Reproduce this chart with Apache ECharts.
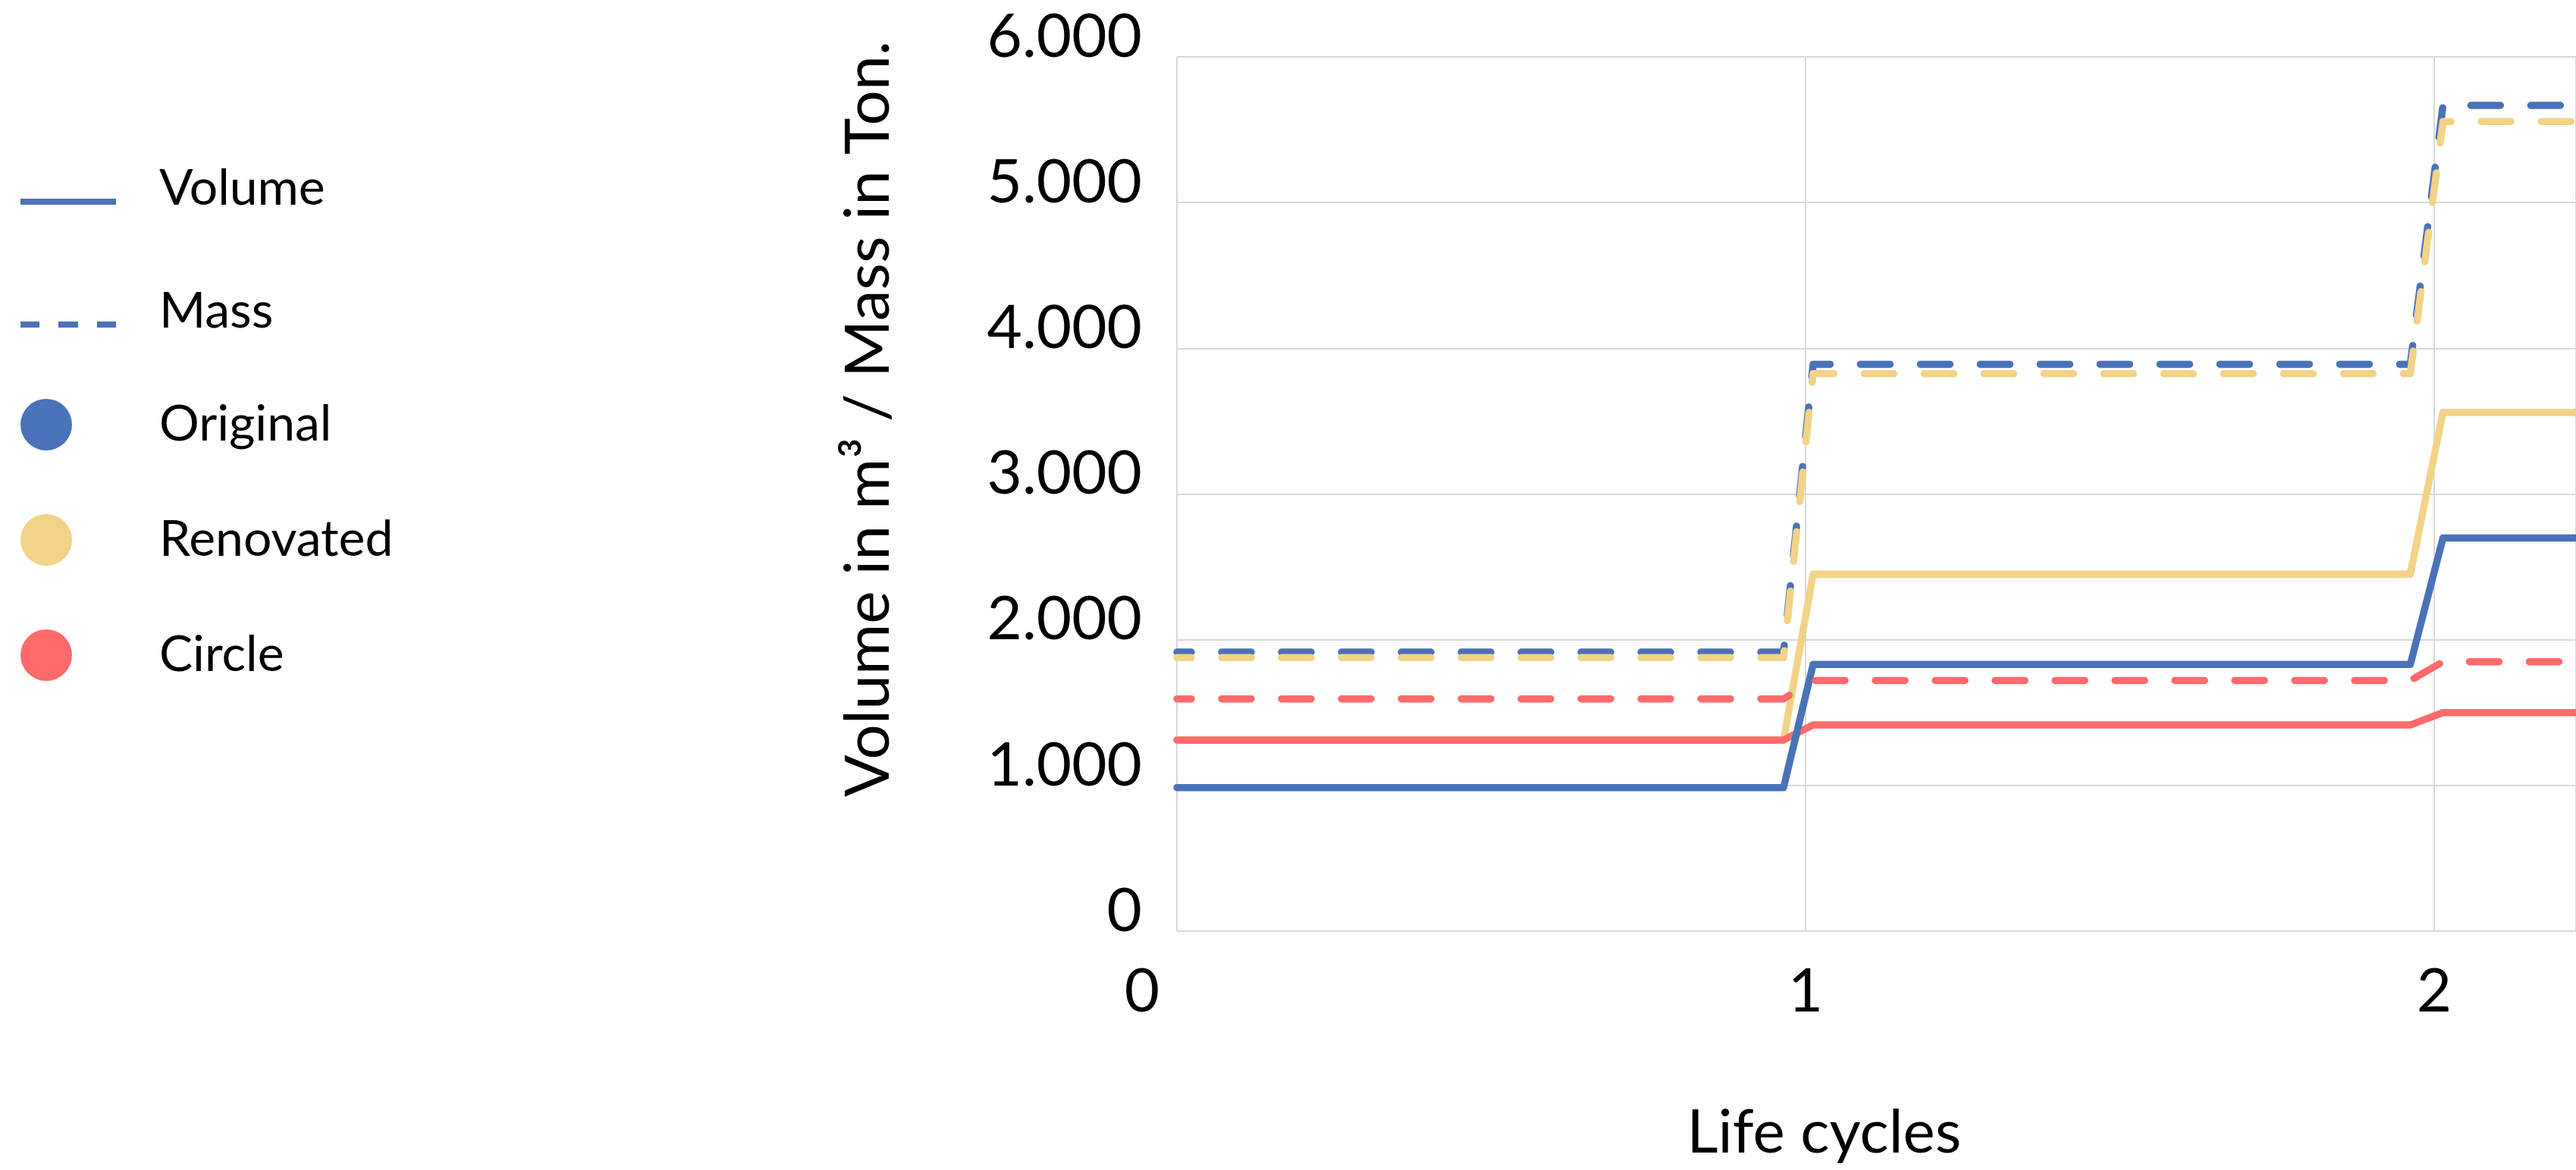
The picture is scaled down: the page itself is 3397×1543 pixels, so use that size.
<!DOCTYPE html>
<html>
<head>
<meta charset="utf-8">
<script src="https://cdn.jsdelivr.net/npm/echarts@6/dist/echarts.min.js"></script>
<style>
  html, body { margin: 0; padding: 0; background: #fff; }
  #chart { width: 3397px; height: 1543px; }
</style>
</head>
<body>
<div id="chart"></div>
<script>
// x positions (life cycles) where the lines break
const lifeCycles = [0, 0.965, 1.012, 1.962, 2.014, 2.3];

// volume in m3
const originalVolume  = [985, 985, 1830, 1830, 2698, 2698];
const renovatedVolume = [1310, 1310, 2450, 2450, 3560, 3560];
const circleVolume    = [1312, 1312, 1415, 1415, 1500, 1500];

// mass in tons
const originalMass  = [1915, 1915, 3890, 3890, 5667, 5667];
const renovatedMass = [1877, 1877, 3826, 3826, 5557, 5557];
const circleMass    = [1594, 1594, 1720, 1720, 1849, 1849];

const BLUE = '#4A72B8';
const YELLOW = '#F2D387';
const RED = '#FF6A6A';
const FONT = 'Lato';

function points(values) {
  return lifeCycles.map((x, i) => [x, values[i]]);
}

function lineSeries(name, values, color, dashed) {
  return {
    name: name,
    type: 'line',
    data: points(values),
    symbol: 'none',
    lineStyle: {
      color: color,
      width: 9.5,
      type: dashed ? [39, 40] : 'solid',
      dashOffset: dashed ? 20 : 0,
      cap: 'round',
      join: 'round'
    },
    itemStyle: { color: color }
  };
}

// empty series only used to feed the legend
function legendSeries(name, color) {
  return { name: name, type: 'line', data: [], symbol: 'none',
           itemStyle: { color: color }, lineStyle: { color: color } };
}

const chart = echarts.init(document.getElementById('chart'));

chart.setOption({
  animation: false,
  textStyle: { fontFamily: FONT },
  grid: { left: 1552, right: 0, top: 75, bottom: 1543 - 1228 },
  legend: [
    {
      orient: 'vertical',
      left: 27,
      top: 216,
      padding: 0,
      itemWidth: 126,
      itemHeight: 42,
      itemGap: 96,
      selectedMode: false,
      textStyle: { fontFamily: FONT, fontSize: 66, color: '#000', padding: [0, 0, 0, 52] },
      data: [
        // the leading move keeps the line in the lower part of the icon box
        { name: 'Volume', icon: 'path://M0,0M0,34H126V42H0Z', itemStyle: { color: BLUE } },
        { name: 'Mass', icon: 'path://M0,0M0,34H25V42H0Z M50,34H76V42H50Z M101,34H126V42H101Z', itemStyle: { color: BLUE } }
      ]
    },
    {
      orient: 'vertical',
      left: 27,
      top: 526,
      padding: 0,
      itemWidth: 68,
      itemHeight: 68,
      itemGap: 84,
      selectedMode: false,
      textStyle: { fontFamily: FONT, fontSize: 66, color: '#000', padding: [0, 0, 0, 110] },
      data: [
        { name: 'Original', icon: 'circle', itemStyle: { color: BLUE } },
        { name: 'Renovated', icon: 'circle', itemStyle: { color: YELLOW } },
        { name: 'Circle', icon: 'circle', itemStyle: { color: RED } }
      ]
    }
  ],
  xAxis: {
    type: 'value',
    min: 0,
    max: (3397 - 1552) / 829,
    interval: 1,
    name: 'Life cycles',
    nameLocation: 'middle',
    nameGap: 226,
    nameTextStyle: { fontFamily: FONT, fontSize: 80, color: '#000', padding: [0, 138, 0, 0] },
    axisLine: { show: false },
    axisTick: { show: false },
    axisLabel: {
      fontFamily: FONT, fontSize: 80, color: '#000', margin: 40,
      showMaxLabel: false,
      formatter: function (v) { return v === 0 ? '{z|0}' : String(v); },
      rich: { z: { fontFamily: FONT, fontSize: 80, color: '#000', padding: [0, 92, 0, 0] } }
    },
    splitLine: { show: true, lineStyle: { color: '#D9D9D9', width: 2 } }
  },
  yAxis: {
    type: 'value',
    min: 0,
    max: 6000,
    interval: 1000,
    name: 'Volume in m³ / Mass in Ton.',
    nameLocation: 'middle',
    nameGap: 365,
    nameRotate: 90,
    nameTextStyle: { fontFamily: FONT, fontSize: 82, color: '#000', padding: [0, 0, 0, 198] },
    axisLine: { show: false },
    axisTick: { show: false },
    axisLabel: {
      fontFamily: FONT, fontSize: 80, color: '#000', margin: 46,
      verticalAlign: 'bottom',
      lineHeight: 52,
      formatter: function (v) { return v.toLocaleString('de-DE'); }
    },
    splitLine: { show: true, lineStyle: { color: '#D9D9D9', width: 2 } }
  },
  series: [
    lineSeries('Original mass', originalMass, BLUE, true),
    lineSeries('Renovated mass', renovatedMass, YELLOW, true),
    lineSeries('Renovated volume', renovatedVolume, YELLOW, false),
    lineSeries('Circle volume', circleVolume, RED, false),
    lineSeries('Original volume', originalVolume, BLUE, false),
    lineSeries('Circle mass', circleMass, RED, true),
    legendSeries('Volume', BLUE),
    legendSeries('Mass', BLUE),
    legendSeries('Original', BLUE),
    legendSeries('Renovated', YELLOW),
    legendSeries('Circle', RED)
  ]
});
</script>
</body>
</html>
